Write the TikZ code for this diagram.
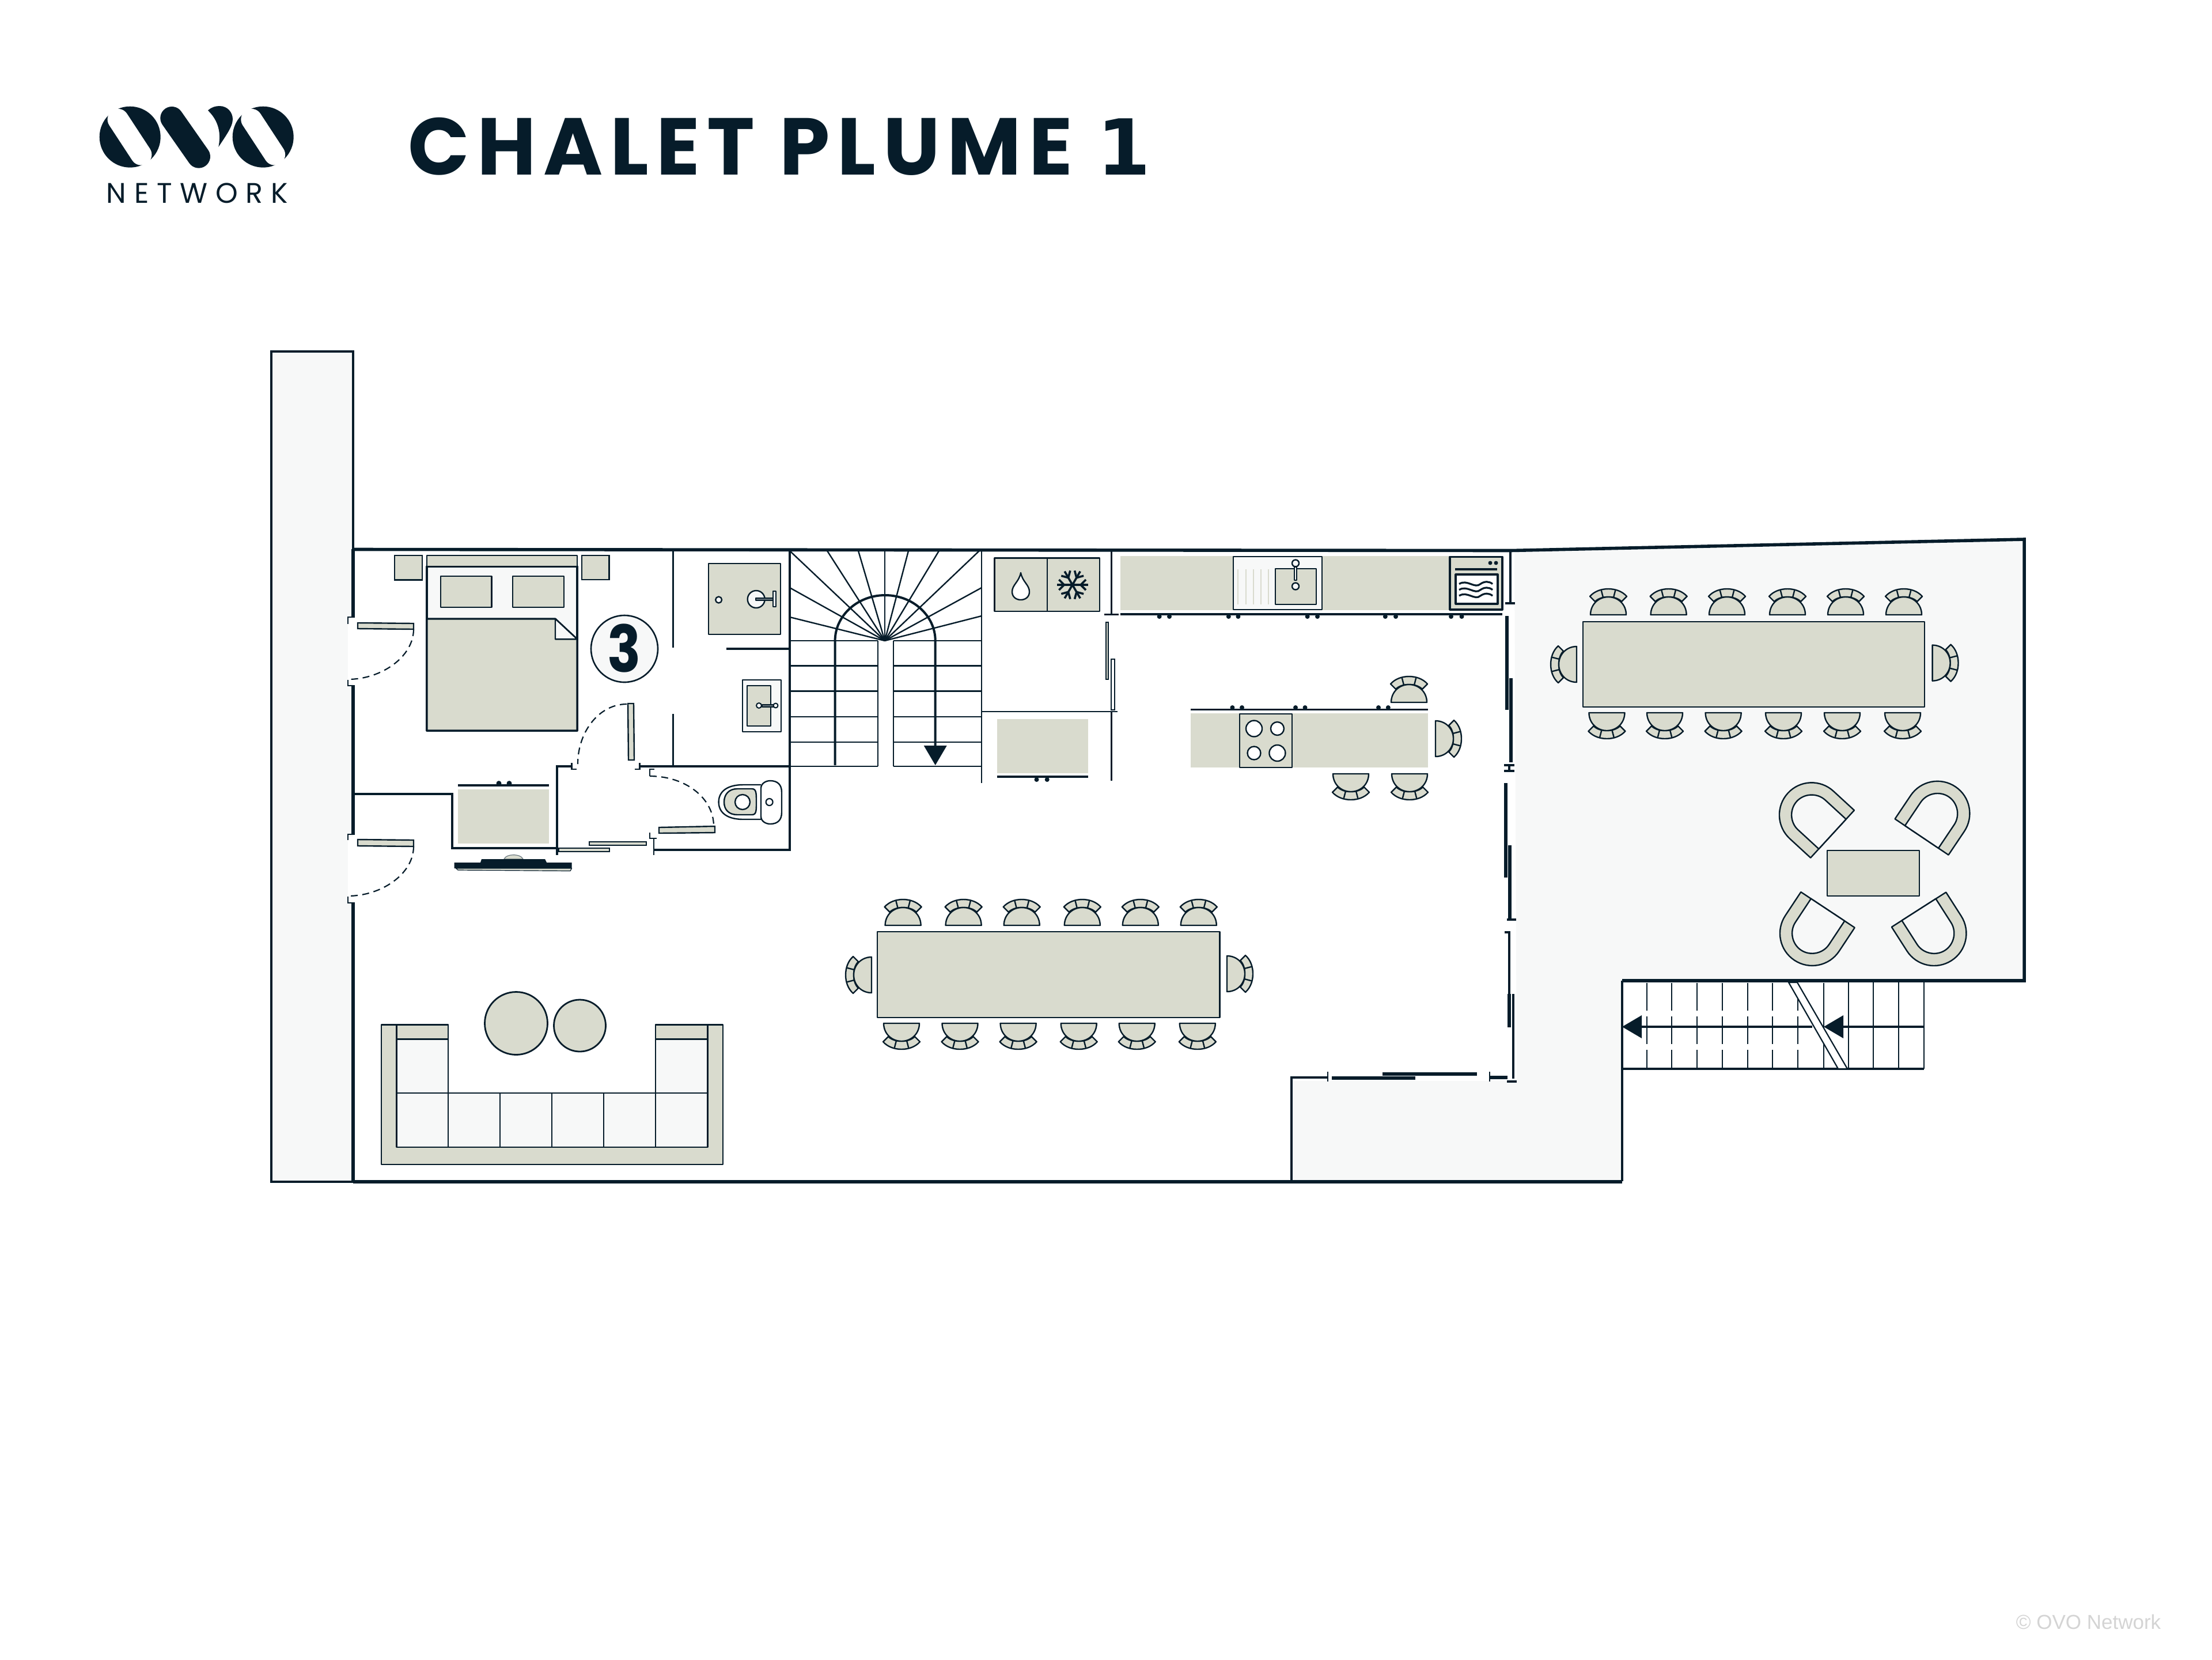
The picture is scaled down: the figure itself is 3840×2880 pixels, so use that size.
\documentclass[tikz,border=0pt]{standalone}
\usepackage{fontspec}
\setmainfont{Poppins}
\newfontfamily\footfont{Liberation Sans}
\newfontfamily\titlefont[LetterSpace=9.2]{Poppins}
\newfontfamily\onefont{DejaVu Sans}
\newfontfamily\logofont[LetterSpace=28]{Poppins}
\newfontfamily\numfont[FakeStretch=0.86]{Poppins}
\definecolor{navy}{HTML}{061C2A}
\definecolor{sage}{HTML}{D9DBCE}
\definecolor{pale}{HTML}{F7F8F8}
\tikzset{
  pics/diningchair/.style={code={
    \draw[furn] (-23,-23) -- (-32,-32) .. controls (-24,-41) and (-12,-45) .. (0,-45) .. controls (12,-45) and (24,-41) .. (32,-32) -- (23,-23) .. controls (17,-29) and (8,-31) .. (0,-31) .. controls (-8,-31) and (-17,-29) .. (-23,-23) -- cycle;
    \draw[furn] (-12.5,-43.5) -- (-9,-30);
    \draw[furn] (12.5,-43.5) -- (9,-30);
    \draw[furn] (-31,0) .. controls (-31,-18) and (-17,-31) .. (0,-31) .. controls (17,-31) and (31,-18) .. (31,0) -- cycle;
  }},
  pics/armchair/.style={code={
    \draw[furn] (-56,0) -- (-56,-49) .. controls (-56,-80) and (-31,-105) .. (0,-105) .. controls (31,-105) and (56,-80) .. (56,-49) -- (56,0) -- cycle;
    \draw[furn,fill=pale] (-35,0) -- (-35,-49) .. controls (-35,-68) and (-19,-84) .. (0,-84) .. controls (19,-84) and (35,-68) .. (35,-49) -- (35,0) -- cycle;
  }}
}
\begin{document}
\begin{tikzpicture}[x=0.25pt,y=-0.25pt]
    \tikzstyle{wallline}=[navy,line width=1.4pt];
    \tikzstyle{thinline}=[navy,line width=0.65pt];
    \tikzstyle{steel}=[navy,line width=0.55pt];
    \tikzstyle{furn}=[draw=navy,fill=sage,line width=0.6pt,line join=round];
    \tikzstyle{plain}=[fill=sage];
    \tikzstyle{leaf}=[draw=navy,fill=sage,line width=0.6pt];
    \tikzstyle{swing}=[navy,line width=0.55pt,dash pattern=on 3pt off 2pt];
    \tikzstyle{panel}=[navy,line width=1.5pt];
    \tikzstyle{rodline}=[navy,line width=0.9pt];
    \useasboundingbox (0,0) rectangle (3840,2880);
    \fill[white] (0,0) rectangle (3840,2880);
    % logo
    \fill[navy] (225.7,237.7) circle (53);
    \fill[navy] (456.7,237.7) circle (53);
    \draw[white,line width=9.2pt,line cap=round] (205,207.3) -- (245,268.3);
    \draw[white,line width=9.2pt,line cap=round] (436.7,207.3) -- (476.7,268.3);
    \draw[navy,line width=10pt,line cap=round] (298.3,205) -- (345,271.7);
    \fill[navy] (361,191.7) .. controls (367,186) and (374,184) .. (381,184) .. controls (395,184) and (404,195) .. (404,207) .. controls (404,220) and (391,237) .. (379.3,255) .. controls (384,232) and (380,210) .. (361,191.7) -- cycle;
    \node[anchor=base west,inner sep=0pt,navy] (brand) at (184,352) {\fontsize{12.3}{14}\logofont NETWORK};
    \node[anchor=base west,inner sep=0pt,navy] (title) at (708,303) {\fontsize{35}{40}\titlefont\bfseries CHALET PLUME {\onefont\fontsize{33.5}{40}\selectfont 1}};
    \node[anchor=base west,inner sep=0pt,black!17] (credit) at (3499,2827) {\fontsize{8.75}{10}\footfont © OVO Network};
    % outside areas
    \fill[pale] (471,610) rectangle (613,2051);
    \fill[pale] (2629,955) -- (3514,936) -- (3514,1702) -- (2816,1702) -- (2816,2050) -- (2242,2050) -- (2242,1876) -- (2633,1876) -- cycle;
    \fill[white] (604,1075) rectangle (616,1186);
    \fill[white] (604,1452) rectangle (616,1563);
    % outer walls
    \draw[navy,line width=1.1pt] (613,953) -- (613,610) -- (471,610) -- (471,2051) -- (613,2051);
    \draw[wallline] (613,953) -- (613,1071);
    \draw[wallline] (613,1190) -- (613,1448);
    \draw[wallline] (613,1567) -- (613,2051);
    \draw[wallline] (613,953.5) -- (2623,955.5) -- (3514,936) -- (3514,1702) -- (2816,1702);
    \draw[wallline] (613,2051) -- (2816,2051);
    \draw[navy,line width=1pt] (2816,1702) -- (2816,2050);
    \draw[navy,line width=1pt] (2242,2050) -- (2242,1870) -- (2305,1870);
    \draw[wallline] (2586,1870) -- (2617,1870);
    % door frames west
    \draw[steel] (616,1071) -- (604,1071) -- (604,1083);
    \draw[steel] (604,1180) -- (604,1190) -- (616,1190);
    \draw[steel] (616,1448) -- (604,1448) -- (604,1458);
    \draw[steel] (604,1556) -- (604,1567) -- (616,1567);
    \draw[leaf] (621,1081) -- (718,1082) -- (718,1092) -- (621,1091) -- cycle;
    \draw[leaf] (621,1457) -- (718,1458) -- (718,1469) -- (621,1468) -- cycle;
    \draw[swing] (718,1092) .. controls (718,1140) and (662,1179) .. (604,1179);
    \draw[swing] (718,1469) .. controls (718,1517) and (662,1555) .. (604,1555);
    % east wall with sliding doors
    \draw[thinline,line width=0.8pt] (2622,956) -- (2622,1046);
    \draw[thinline,line width=0.8pt] (2613,1047) -- (2630,1047);
    \draw[panel] (2616,1069) -- (2616,1232);
    \draw[panel] (2623,1177) -- (2623,1323);
    \draw[thinline,line width=0.8pt] (2611,1328) -- (2629,1328);
    \draw[thinline,line width=0.8pt] (2611,1338) -- (2629,1338);
    \draw[thinline,line width=0.8pt] (2620,1328) -- (2620,1338);
    \draw[panel] (2614,1359) -- (2614,1523);
    \draw[panel] (2621,1467) -- (2621,1596);
    \draw[thinline,line width=0.8pt] (2616,1596) -- (2632,1596);
    \draw[thinline,line width=0.8pt] (2612,1618) -- (2620,1618) -- (2620,1725);
    \draw[panel] (2620,1725) -- (2620,1783);
    \draw[thinline,line width=0.9pt] (2627,1725) -- (2627,1872);
    \draw[thinline,line width=0.8pt] (2616,1877) -- (2633,1877);
    \draw[steel] (2305,1860) -- (2305,1877);
    \draw[steel] (2586,1860) -- (2586,1877);
    \draw[panel] (2312,1871) -- (2457,1871);
    \draw[panel] (2400,1864) -- (2564,1864);
    % patio stairs
    \draw[thinline] (3340,1855) -- (3340,1702);
    \draw[navy,line width=0.9pt] (2816,1702) -- (2816,1855) -- (3340,1855);
    \foreach \sx in {2859,2902,2946,2990,3034,3077,3121} {
        \draw[steel,dash pattern=on 12pt off 2.5pt] (\sx,1706) -- (\sx,1855);
    }
    \draw[steel] (3166,1706) -- (3166,1855);
    \foreach \sx in {3209,3252,3296} {
        \draw[steel] (\sx,1702) -- (\sx,1855);
    }
    \draw[draw=navy,fill=white,line width=0.55pt] (3105,1705) -- (3120,1705) -- (3207,1855) -- (3191,1855) -- cycle;
    \draw[rodline,line width=1.1pt] (3340,1782) -- (3190,1782);
    \fill[navy] (3166,1782) -- (3200,1762) -- (3200,1802) -- cycle;
    \draw[rodline,line width=1.1pt] (3146,1782) -- (2840,1782);
    \fill[navy] (2816,1782) -- (2850,1762) -- (2850,1802) -- cycle;
    % inner walls
    \draw[thinline] (1168.5,955) -- (1168.5,1124);
    \draw[thinline] (1168.5,1239) -- (1168.5,1330);
    \draw[thinline,line width=0.8pt] (1261,1126) -- (1371,1126);
    \draw[thinline,line width=0.8pt] (1371,955) -- (1371,1475) -- (1135,1475);
    \draw[thinline,line width=0.8pt] (1110.5,1330) -- (1371,1330);
    \draw[thinline,line width=0.8pt] (992.5,1330) -- (967,1330) -- (967,1484);
    \draw[thinline,line width=0.8pt] (967,1472) -- (785,1472) -- (785,1378) -- (616,1378);
    \draw[steel] (992.5,1324) -- (992.5,1335) -- (1001,1335);
    \draw[steel] (1110.5,1324) -- (1110.5,1335) -- (1102,1335);
    \draw[steel] (1136,1335) -- (1128,1335) -- (1128,1347);
    \draw[steel] (1128,1445) -- (1128,1455) -- (1140,1455);
    \draw[steel] (1135,1455) -- (1135,1484);
    \draw[leaf] (1090,1221) -- (1100,1221) -- (1101,1319) -- (1091,1319) -- cycle;
    \draw[swing] (1088,1222) .. controls (1040,1222) and (1003,1270) .. (1003,1326);
    \draw[leaf] (1144,1436) -- (1241,1434) -- (1241,1445) -- (1144,1446) -- cycle;
    \draw[swing] (1128,1347) .. controls (1190,1347) and (1239,1385) .. (1239,1434);
    \draw[leaf] (1023,1461) rectangle (1122,1467);
    \draw[leaf] (970,1472) rectangle (1058,1478);
    % kitchen partitions
    \draw[thinline] (1704,955) -- (1704,1359);
    \draw[thinline] (1929.6,956) -- (1929.6,1066);
    \draw[rodline] (1917,1066.5) -- (1942,1066.5);
    \draw[leaf,fill=sage,line width=0.4pt] (1920,1080) rectangle (1924,1179);
    \draw[leaf,fill=white,line width=0.5pt] (1929,1144) rectangle (1935,1232);
    \draw[thinline] (1704,1235) -- (1940,1235);
    \draw[thinline] (1929.6,1235) -- (1929.6,1355);
    % staircase
    \foreach \px/\py in {1371/1071,1371/1020,1371/956,1436/956,1490/956,1536/956,1577/956,1630/956,1700/956,1704/1020,1704/1069} {
        \draw[steel,line width=0.6pt] (1536,1112) -- (\px,\py);
    }
    \foreach \ty in {1112,1155.5,1199.6,1243.7,1287.8,1330} {
        \draw[steel,line width=0.6pt] (1371,\ty) -- (1524,\ty);
        \draw[steel,line width=0.6pt] (1551,\ty) -- (1704,\ty);
    }
    \draw[steel] (1524,1112) -- (1524,1330);
    \draw[steel] (1551,1112) -- (1551,1330);
    \draw[thinline,line width=1pt] (1449.6,1328) -- (1449.6,1112) .. controls (1449.6,1069) and (1488,1033) .. (1536.6,1033) .. controls (1585,1033) and (1623.7,1069) .. (1623.7,1112) -- (1623.7,1300);
    \fill[navy] (1623.7,1328) -- (1603.7,1294) -- (1643.7,1294) -- cycle;
    % bedroom
    \draw[leaf] (685,964) rectangle (733,1006.5);
    \draw[leaf] (1010,964) rectangle (1057.6,1006);
    \draw[furn,fill=pale,line width=0.8pt] (741,983) rectangle (1002,1268);
    \draw[furn] (741,964) rectangle (1002,983);
    \draw[furn] (765,1000) rectangle (853.5,1054);
    \draw[furn] (890,1000) rectangle (979,1054);
    \draw[furn,line width=0.8pt] (741,1074) -- (964,1074) -- (1002,1109.4) -- (1002,1268) -- (741,1268) -- cycle;
    \draw[furn,fill=pale] (964,1074) -- (1002,1109.4) -- (964,1109.4) -- cycle;
    \node[circle,draw=navy,fill=pale,line width=0.65pt,minimum size=29pt,inner sep=0pt] (roomcircle) at (1084,1126) {};
    \node[navy,inner sep=0pt] (roomnum) at (1084,1125) {\fontsize{28}{30}\numfont\bfseries 3};
    % shower
    \draw[furn] (1230,978) rectangle (1355,1101);
    \draw[furn,fill=pale] (1247.6,1041) circle (5.5);
    \draw[furn,fill=pale] (1312.7,1040) circle (15);
    \draw[furn,fill=navy!60] (1312,1038) rectangle (1343,1042);
    \draw[furn,fill=pale,line width=0.5pt] (1342,1026) rectangle (1347,1053);
    % washbasin
    \draw[furn,fill=pale,line width=0.5pt] (1289,1180) rectangle (1356,1270);
    \draw[furn] (1297,1190) rectangle (1338,1260);
    \draw[furn,fill=pale,line width=0.5pt] (1317.5,1224.5) circle (4.5);
    \draw[furn,fill=navy!60,line width=0.5pt] (1323,1222.5) rectangle (1346,1226.5);
    \draw[furn,fill=pale,line width=0.5pt] (1346.5,1224.5) circle (4);
    % toilet
    \draw[furn,fill=white] (1321,1422) -- (1290,1422) .. controls (1262,1422) and (1247.6,1410) .. (1247.6,1392) .. controls (1247.6,1374) and (1262,1362) .. (1290,1362) -- (1321,1362);
    \draw[furn] (1305,1369) .. controls (1313,1369) and (1313,1376) .. (1313,1392) .. controls (1313,1408) and (1313,1414) .. (1305,1414) -- (1280,1414) .. controls (1265,1414) and (1257,1405) .. (1257,1392) .. controls (1257,1379) and (1265,1369) .. (1280,1369) -- cycle;
    \draw[furn,fill=white] (1289,1392) circle (13);
    \draw[furn,fill=white] (1321,1368) .. controls (1321,1360) and (1329,1355) .. (1337,1355) .. controls (1350,1355) and (1357,1362) .. (1357,1375) -- (1357,1410) .. controls (1357,1423) and (1350,1430) .. (1337,1430) .. controls (1329,1430) and (1321,1425) .. (1321,1417) -- cycle;
    \draw[furn,fill=white,line width=0.55pt] (1335.6,1392) circle (6);
    % wardrobe and tv
    \fill[plain] (795,1370) rectangle (953,1464);
    \draw[rodline] (795,1363) -- (953,1363);
    \fill[navy] (866,1359.6) circle (4.5);
    \fill[navy] (884,1359.6) circle (4.5);
    \fill[sage,draw=navy!60,line width=0.3pt] (875,1491) .. controls (877,1486) and (884,1483.7) .. (891,1483.7) .. controls (899,1483.7) and (906,1486) .. (908,1491) -- cycle;
    \fill[navy] (836,1491) -- (946,1491) -- (949,1497) -- (992.5,1497) -- (992.5,1507) -- (788.5,1507) -- (788.5,1497) -- (834,1497) -- cycle;
    \draw[furn,line width=0.3pt] (791.6,1507) -- (992.5,1507) -- (990,1511.5) -- (795,1510) -- cycle;
    % fridge
    \draw[furn,line width=0.65pt] (1726.5,968.6) rectangle (1909,1061);
    \draw[thinline] (1818,968.6) -- (1818,1061);
    \draw[furn,fill=white] (1772,994) .. controls (1775,1010) and (1787,1015) .. (1787,1027) .. controls (1787,1036) and (1780,1041) .. (1772,1041) .. controls (1764,1041) and (1757,1036) .. (1757,1027) .. controls (1757,1015) and (1769,1010) .. (1772,994) -- cycle;
    \foreach \ang in {0,60,...,300} {
        \draw[navy,line width=0.9pt,rotate around={\ang:(1861.7,1015)}] (1861.7,1015) -- (1888.7,1015);
        \draw[navy,line width=0.9pt,rotate around={\ang:(1861.7,1015)}] (1876,1015) -- (1885,1006);
        \draw[navy,line width=0.9pt,rotate around={\ang:(1861.7,1015)}] (1876,1015) -- (1885,1024);
    }
    % counter
    \fill[plain] (1944.6,964.5) rectangle (2608,1059);
    \draw[furn,fill=pale,line width=0.7pt] (2141,966) rectangle (2295,1058);
    \foreach \dx in {2149.4,2162.6,2176,2189,2202} {
        \draw[sage,line width=0.5pt] (\dx,988) -- (\dx,1049);
    }
    \draw[furn,line width=0.7pt] (2214,987) rectangle (2285,1049);
    \draw[furn,fill=pale,line width=0.5pt] (2247,984) rectangle (2251,1007);
    \draw[furn,fill=pale,line width=0.6pt] (2249,977.5) circle (6);
    \draw[furn,fill=pale,line width=0.6pt] (2249,1017.5) circle (6);
    \draw[furn,line width=0.8pt] (2517,966.5) rectangle (2608,1058);
    \fill[navy] (2587,977) circle (3.5);
    \fill[navy] (2597,977) circle (3.5);
    \draw[rodline] (2526,988) -- (2599,988);
    \draw[furn,fill=white,line width=0.8pt] (2527,997) rectangle (2600,1048);
    \foreach \wy in {1013.5,1023.7,1034} {
        \draw[navy,line width=0.8pt] (2533,\wy) .. controls (2547,{\wy-9}) and (2560,{\wy+9}) .. (2570,\wy) .. controls (2577,{\wy-5}) and (2585,{\wy-5}) .. (2591,\wy);
    }
    \draw[rodline] (1944.6,1065.7) -- (2608,1065.7);
    \foreach \dx in {2012.6,2030,2132.8,2149.4,2269.6,2287,2404.8,2423,2519,2537.5} {
        \fill[navy] (\dx,1070) circle (4);
    }
    \fill[plain] (1730.6,1248) rectangle (1889,1342);
    \draw[rodline] (1730.6,1348) -- (1889,1348);
    \fill[navy] (1799.5,1353) circle (4);
    \fill[navy] (1817.7,1353) circle (4);
    % island
    \fill[plain] (2067,1238) rectangle (2479.4,1332);
    \draw[rodline] (2067,1231.4) -- (2479.4,1231.4);
    \foreach \dx in {2139.4,2156,2249,2265.5,2393,2409.8} {
        \fill[navy] (\dx,1228) circle (4);
    }
    \draw[furn,line width=0.7pt] (2152,1239) rectangle (2243,1332);
    \draw[furn,fill=white] (2177,1264.5) circle (14);
    \draw[furn,fill=white] (2217.4,1264.5) circle (11.5);
    \draw[furn,fill=white] (2177,1307) circle (11.5);
    \draw[furn,fill=white] (2217.4,1307) circle (14);
    \pic at (2446,1219) {diningchair};
    \pic[rotate=-90] at (2492,1282) {diningchair};
    \pic[rotate=180] at (2345,1343) {diningchair};
    \pic[rotate=180] at (2447,1343) {diningchair};
    % dining table inside
    \draw[furn] (1523,1617) rectangle (2117.5,1766);
    \foreach \cx in {1567.6,1672.6,1773.7,1878.8,1979.8,2080.8} {
        \pic at (\cx,1606) {diningchair};
    }
    \foreach \cx in {1565,1666.5,1767.6,1872.7,1973.7,2078.8} {
        \pic[rotate=180] at (\cx,1776) {diningchair};
    }
    \pic[rotate=90] at (1513,1692) {diningchair};
    \pic[rotate=-90] at (2130,1690) {diningchair};
    % dining table outside
    \draw[furn] (2748,1078.7) rectangle (3341,1227);
    \foreach \cx in {2792,2896.6,2998,3103,3204,3305} {
        \pic at (\cx,1067) {diningchair};
    }
    \foreach \cx in {2789.4,2890,2991.6,3096,3198,3303} {
        \pic[rotate=180] at (\cx,1237) {diningchair};
    }
    \pic[rotate=90] at (2737,1153) {diningchair};
    \pic[rotate=-90] at (3354.5,1150.6) {diningchair};
    % lounge
    \draw[furn] (3172,1476) rectangle (3332,1555);
    \pic[rotate=47.4] at (3181,1447.5) {armchair};
    \pic[rotate=-33.9] at (3336,1452.5) {armchair};
    \pic[rotate=146.5] at (3173,1579) {armchair};
    \pic[rotate=-147.4] at (3331,1578.7) {armchair};
    % sofa
    \draw[furn] (662,1778.6) -- (778,1778.6) -- (778,1897) -- (1138,1897) -- (1138,1778.6) -- (1255,1778.6) -- (1255,2020.7) -- (662,2020.7) -- cycle;
    \draw[furn,fill=pale] (688.3,1803.6) rectangle (778,1897);
    \draw[furn,fill=pale] (1138,1803.6) rectangle (1228.5,1897);
    \draw[furn] (688.3,1778.6) rectangle (778,1803.6);
    \draw[furn] (1138,1778.6) rectangle (1228.5,1803.6);
    \draw[furn,fill=pale] (688.3,1897) rectangle (1228.5,1991);
    \foreach \sx in {778,868,958,1048,1138} {
        \draw[thinline] (\sx,1897) -- (\sx,1991);
    }
    \draw[furn,line width=0.7pt] (896,1776) circle (54.5);
    \draw[furn,line width=0.7pt] (1006.5,1780) circle (45);
\end{tikzpicture}
\end{document}
